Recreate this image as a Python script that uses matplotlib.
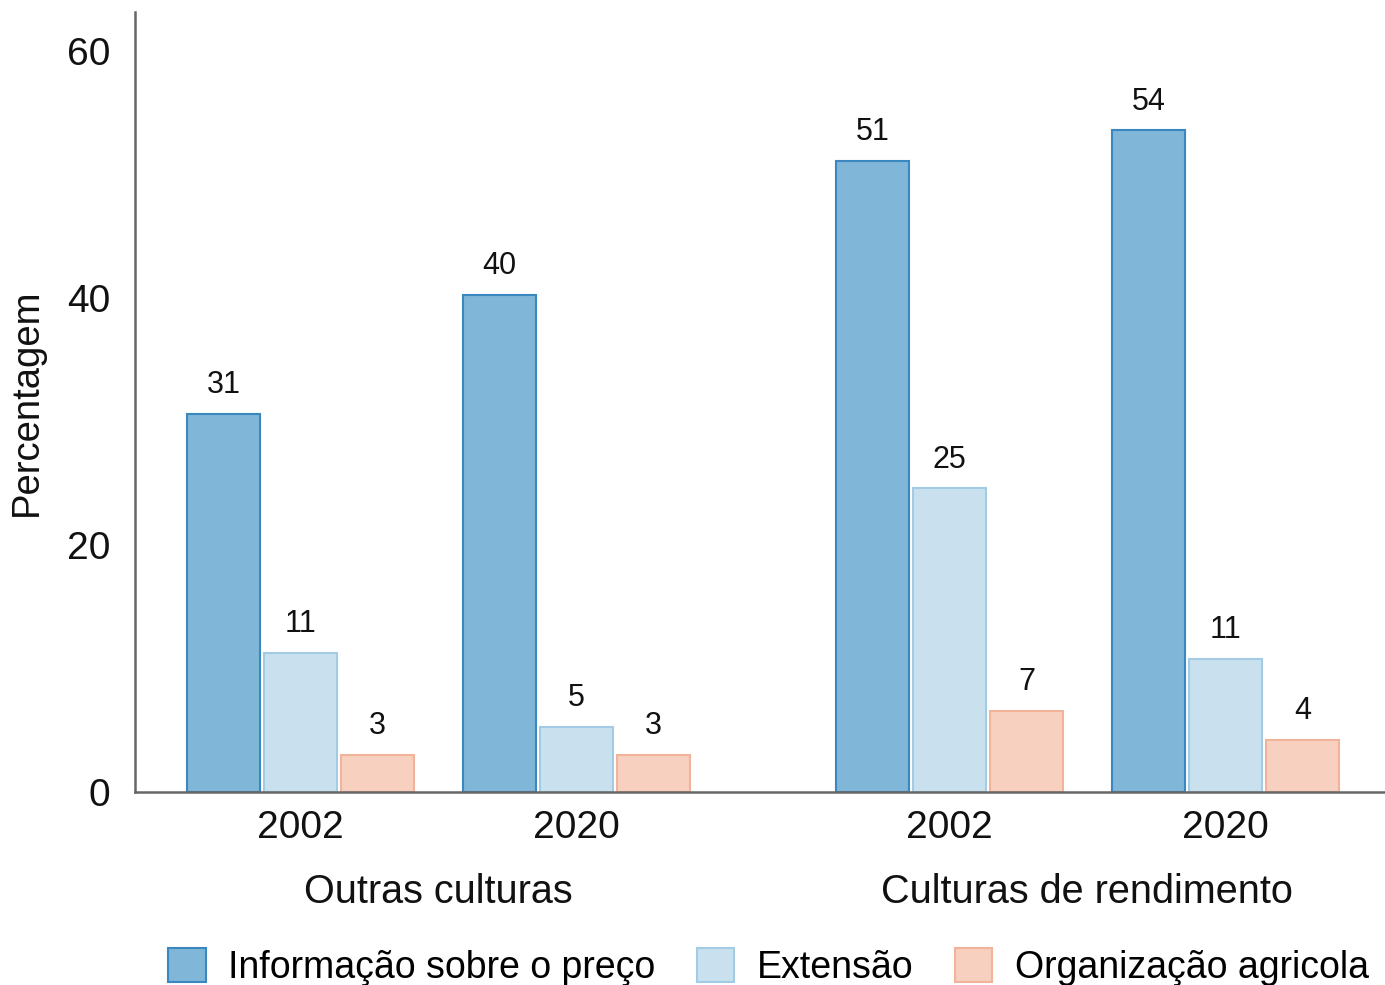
import numpy as np
import matplotlib
matplotlib.use("Agg")
import matplotlib.pyplot as plt

plt.rcParams['font.family'] = ['Liberation Sans', 'DejaVu Sans']

# data
groups = ["Outras culturas", "Culturas de rendimento"]
years = ["2002", "2020", "2002", "2020"]
series = ["Informação sobre o preço", "Extensão", "Organização agricola"]
preco = [30.6, 40.3, 51.1, 53.6]
extensao = [11.3, 5.3, 24.6, 10.8]
organizacao = [3.0, 3.0, 6.6, 4.2]
labels_preco = [31, 40, 51, 54]
labels_ext = [11, 5, 25, 11]
labels_org = [3, 3, 7, 4]

fills = ["#80b6d7", "#c9e1ef", "#f8d0bf"]
edges = ["#3b88c0", "#a3cbe3", "#f1b49b"]

fig = plt.figure(figsize=(13.85, 9.85), dpi=100)
ax = fig.add_axes([135/1385, 1 - 792/985, 1250/1385, 780/985])

# cluster centres: two per group, extra gap between groups
group_gap = 1.351
xc = np.array([0, 1, group_gap + 1, group_gap + 2], dtype=float)
w = 0.2645
step = 0.279

for i, (vals, labs) in enumerate([(preco, labels_preco), (extensao, labels_ext), (organizacao, labels_org)]):
    xs = xc + (i - 1) * step
    bars = ax.bar(xs, vals, width=w, color=fills[i], edgecolor=edges[i], linewidth=1.5, label=series[i])
    for b, lab in zip(bars, labs):
        ax.annotate(str(lab), (b.get_x() + b.get_width() / 2, b.get_height()),
                    xytext=(0, 10), textcoords="offset points", ha="center", va="bottom",
                    fontsize=22, color="#111111")

ax.set_xlim((135 - 300.5) / 276, (1385 - 300.5) / 276)
ax.set_ylim(0, 63.2)
ax.set_yticks([0, 20, 40, 60])
ax.set_xticks(xc)
ax.set_xticklabels(years)
ax.tick_params(axis="both", length=0, labelsize=28, colors="#111111")
ax.tick_params(axis="y", pad=18)
ax.tick_params(axis="x", pad=13)
for s in ["top", "right"]:
    ax.spines[s].set_visible(False)
for s in ["left", "bottom"]:
    ax.spines[s].set_color("#666666")
    ax.spines[s].set_linewidth(1.8)

ax.set_ylabel("Percentagem", fontsize=27.5, color="#111111")
ax.yaxis.set_label_coords(-0.072, 0.5)

for gi, g in enumerate(groups):
    ax.annotate(g, ((xc[2 * gi] + xc[2 * gi + 1]) / 2, 0), xycoords=("data", "axes fraction"),
                xytext=(0, -72), textcoords="offset points", ha="center", va="center",
                fontsize=28.5, color="#111111")

fig.legend(loc="lower center", bbox_to_anchor=(0.555, -0.016), ncol=3, frameon=False,
           fontsize=27, handlelength=1.0, handleheight=1.0, handletextpad=0.6,
           columnspacing=1.1, borderaxespad=0.0)

fig.savefig("out.png", dpi=100)
